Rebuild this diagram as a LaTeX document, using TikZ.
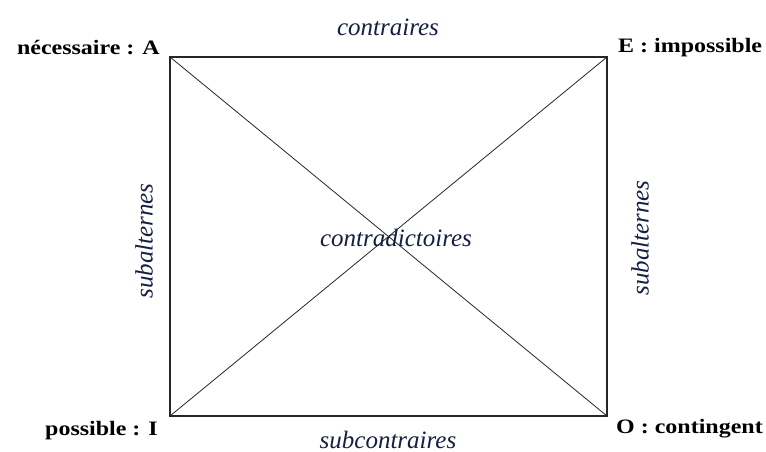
\documentclass[tikz,border=0pt]{standalone}
\usepackage{fontspec}
\setmainfont{Liberation Serif}
\definecolor{navy}{RGB}{22,30,65}
\newcommand{\wide}[1]{\scalebox{1.17}[1]{#1}}
\tikzset{
  cornerlab/.style={inner sep=0pt, font=\bfseries\fontsize{20.5}{20.5}\selectfont},
  rel/.style={inner sep=0pt, text=navy, font=\itshape\fontsize{25}{25}\selectfont},
  side/.style={line width=1.3pt, black!85},
  diag/.style={line width=0.8pt, black!85}
}
\begin{document}
\begin{tikzpicture}[x=1pt,y=-1pt]
\useasboundingbox (0,0) rectangle (766,452);
\coordinate (A) at (170,57);
\coordinate (E) at (607,57);
\coordinate (I) at (170,416);
\coordinate (O) at (607,416);
\draw[side] (A) -- (E) -- (O) -- (I) -- cycle;
\draw[diag] (A) -- (O);
\draw[diag] (E) -- (I);
\node[cornerlab, anchor=base east] (la) at (160,55) {\wide{nécessaire : A}};
\node[cornerlab, anchor=base west] (le) at (618,53) {\wide{E : impossible}};
\node[cornerlab, anchor=base east] (li) at (158,435) {\wide{possible : I}};
\node[cornerlab, anchor=base west] (lo) at (616,433) {\wide{O : contingent}};
\node[rel] (contr) at (388,27) {contraires};
\node[rel] (subc) at (388,440) {subcontraires};
\node[rel] (contd) at (396,238) {contradictoires};
\node[rel, rotate=90] (subl) at (144,241) {subalternes};
\node[rel, rotate=90] (subr) at (640,238) {subalternes};
\end{tikzpicture}
\end{document}
